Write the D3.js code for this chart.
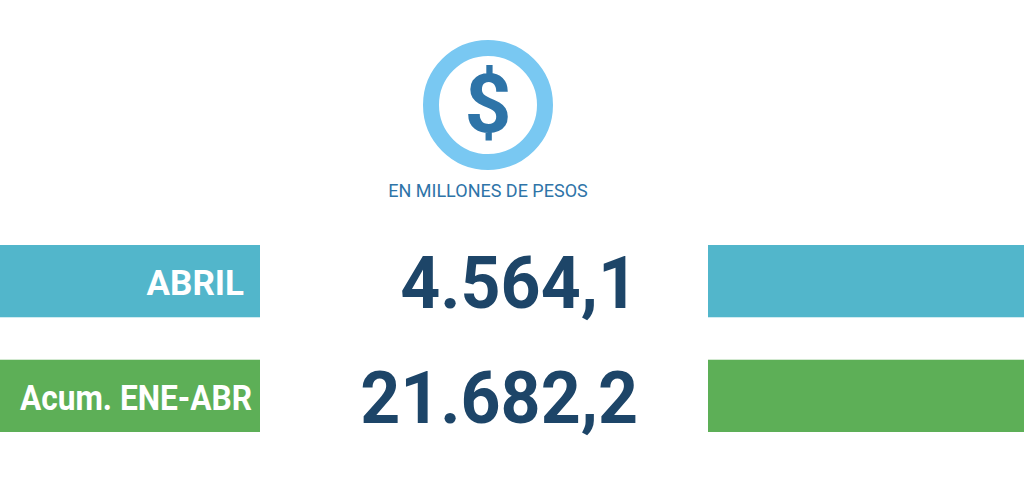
<!DOCTYPE html>
<html lang="es">
<head>
  <meta charset="UTF-8">
  <title>Recaudación en millones de pesos</title>
  <script src="https://d3js.org/d3.v7.min.js"></script>
  <style>
    html, body { margin: 0; padding: 0; background: #fff; }
    svg { display: block; font-family: Roboto, "Liberation Sans", sans-serif; }
    .unit { font-size: 18px; fill: #2e74a8; text-anchor: middle; }
    .row-label { font-size: 35px; font-weight: 700; fill: #fff; text-anchor: end; }
    .row-value { font-size: 72px; font-weight: 700; fill: #1d4568; text-anchor: end; }
  </style>
</head>
<body>
<svg width="1024" height="477"></svg>
<script>
// datos
const categories = ["ABRIL", "Acum. ENE-ABR"];
const values = [4564.1, 21682.2];
const colors = ["#52b6cb", "#5daf57"];
const unitLabel = "EN MILLONES DE PESOS";

const svg = d3.select("svg");
const W = +svg.attr("width");

// formato 4.564,1
const es = d3.formatLocale({decimal: ",", thousands: ".", grouping: [3], currency: ["$", ""]});
const fmt = es.format(",.1f");

const y = d3.scaleBand().domain(categories).range([245, 432]).paddingInner(0.37);

// icono
const icon = svg.append("g").attr("transform", "translate(488,105)");
icon.append("circle")
  .attr("r", 57)
  .attr("fill", "none")
  .attr("stroke", "#79c8f2")
  .attr("stroke-width", 16);
icon.append("text")
  .attr("y", 27)
  .attr("text-anchor", "middle")
  .attr("font-size", 82)
  .attr("font-weight", 700)
  .attr("fill", "#2e74a8")
  .text("$");

svg.append("text")
  .attr("class", "unit")
  .attr("x", 488)
  .attr("y", 197)
  .text(unitLabel);

const rows = svg.selectAll(".row")
  .data(categories)
  .join("g")
  .attr("class", "row")
  .attr("transform", d => `translate(0,${y(d)})`);

rows.append("rect")
  .attr("x", 0)
  .attr("width", 260)
  .attr("height", y.bandwidth())
  .attr("fill", (d, i) => colors[i]);

rows.append("rect")
  .attr("x", 708)
  .attr("width", W - 708)
  .attr("height", y.bandwidth())
  .attr("fill", (d, i) => colors[i]);

rows.append("text")
  .attr("class", "row-label")
  .attr("x", (d, i) => i === 0 ? 244 : 252)
  .attr("y", y.bandwidth() / 2 + 14)
  .text(d => d)
  .each(function () {
    // la etiqueta larga va algo comprimida, como en el original
    const len = this.getComputedTextLength();
    if (len > 232) d3.select(this).attr("textLength", 232).attr("lengthAdjust", "spacingAndGlyphs");
  });

rows.append("text")
  .attr("class", "row-value")
  .attr("x", 638)
  .attr("y", y.bandwidth() / 2 + 27)
  .text((d, i) => fmt(values[i]))
  .each(function () {
    const len = this.getComputedTextLength();
    d3.select(this).attr("textLength", len * 0.97).attr("lengthAdjust", "spacingAndGlyphs");
  });
</script>
</body>
</html>
